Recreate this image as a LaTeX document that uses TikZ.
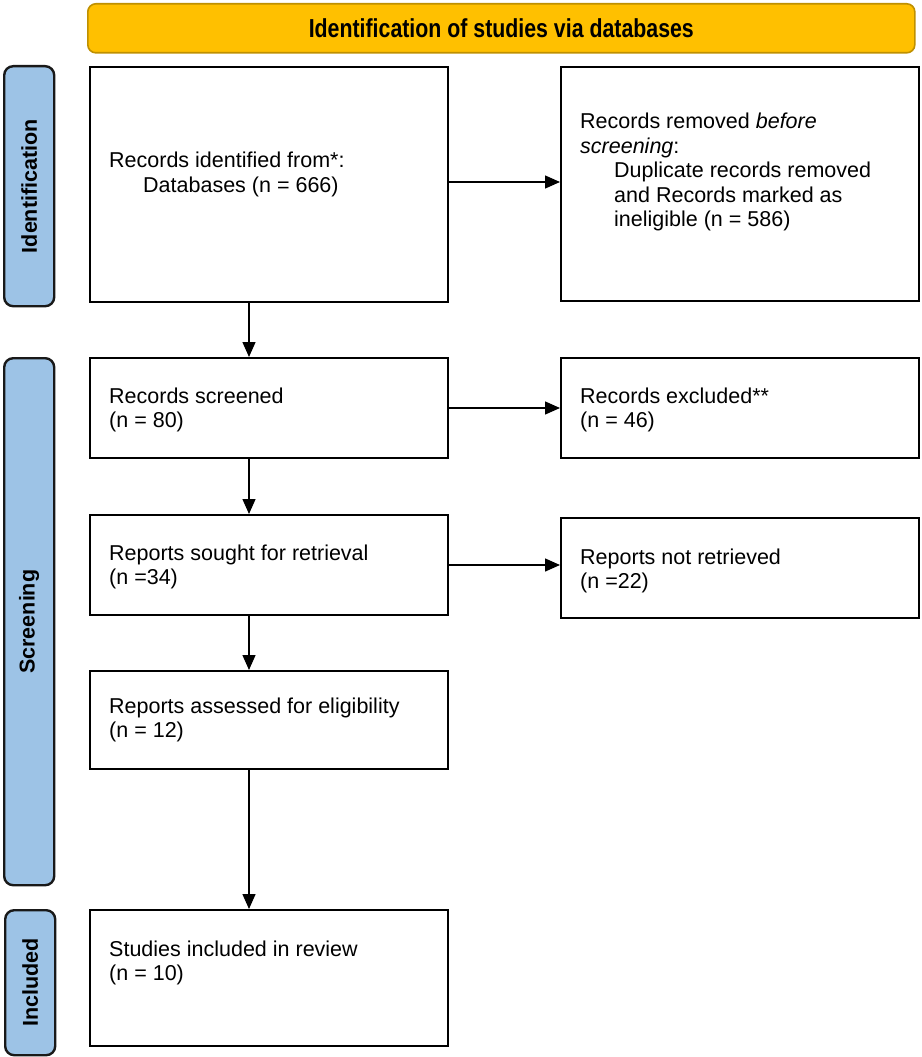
\documentclass[tikz,border=0pt]{standalone}
\usepackage{fontspec}
\setmainfont{Liberation Sans}
\usetikzlibrary{arrows.meta,positioning}
\tikzset{
  box/.style={draw=black, line width=2pt, anchor=north west, inner sep=0pt},
  txt/.style={anchor=west, align=left, inner xsep=20pt, inner ysep=0pt,
    font=\fontsize{21.5}{24.5}\selectfont},
  banner/.style={draw=gold!75!black, fill=gold, line width=1.6pt, rounded corners=8pt,
    anchor=north west, inner sep=0pt},
  sidebar/.style={draw=black!90, fill=sideblue, line width=2.4pt, rounded corners=9pt,
    anchor=north west, inner sep=0pt},
  sidelabel/.style={rotate=90, font=\fontsize{21.5}{24}\selectfont\bfseries},
  arr/.style={line width=1.4pt, -{Triangle[length=15pt,width=13pt]}}
}
\definecolor{gold}{HTML}{FFC000}
\definecolor{sideblue}{HTML}{9DC3E6}
\begin{document}
\begin{tikzpicture}[x=1pt,y=-1pt]
\useasboundingbox (0,0) rectangle (921,1057);
% banner
\node[banner, minimum width=827pt, minimum height=49pt] (ban) at (87,3) {};
\node[font=\fontsize{26}{29}\selectfont\bfseries] (bant) at (ban.center) {\scalebox{0.82}[1]{Identification of studies via databases}};
% side bars
\node[sidebar, minimum width=50pt, minimum height=240pt] (sid) at (3,65) {};
\node[sidelabel] (sidt) at (sid.center) {Identification};
\node[sidebar, minimum width=50pt, minimum height=527pt] (sscr) at (3,357) {};
\node[sidelabel] (sscrt) at (sscr.center) {Screening};
\node[sidebar, minimum width=50pt, minimum height=145pt] (sinc) at (4,909) {};
\node[sidelabel] (sinct) at (sinc.center) {Included};
% boxes
\node[box, minimum width=358pt, minimum height=235pt] (ident) at (89,66) {};
\node[txt, yshift=10pt] (identt) at (ident.center -| ident.west)
  {Records identified from*:\\\hspace*{34pt}Databases (n = 666)};
\node[box, minimum width=358pt, minimum height=234pt] (removed) at (560,66) {};
\node[txt, yshift=12pt] (removedt) at (removed.center -| removed.west)
  {Records removed \textit{before}\\\textit{screening}:\\\hspace*{34pt}Duplicate records removed\\\hspace*{34pt}and Records marked as\\\hspace*{34pt}ineligible (n = 586)};
\node[box, minimum width=358pt, minimum height=100pt] (screened) at (89,357) {};
\node[txt, yshift=-2pt] (screenedt) at (screened.center -| screened.west)
  {Records screened\\(n = 80)};
\node[box, minimum width=358pt, minimum height=100pt] (excluded) at (560,357) {};
\node[txt, yshift=-2pt] (excludedt) at (excluded.center -| excluded.west)
  {Records excluded**\\(n = 46)};
\node[box, minimum width=358pt, minimum height=100pt] (sought) at (89,514) {};
\node[txt, yshift=-2pt] (soughtt) at (sought.center -| sought.west)
  {Reports sought for retrieval\\(n =34)};
\node[box, minimum width=358pt, minimum height=100pt] (notret) at (560,517) {};
\node[txt, yshift=-3pt] (notrett) at (notret.center -| notret.west)
  {Reports not retrieved\\(n =22)};
\node[box, minimum width=358pt, minimum height=98pt] (assessed) at (89,670) {};
\node[txt] (assessedt) at (assessed.center -| assessed.west)
  {Reports assessed for eligibility\\(n = 12)};
\node[box, minimum width=358pt, minimum height=136pt] (included) at (89,909) {};
\node[txt, yshift=15pt] (includedt) at (included.center -| included.west)
  {Studies included in review\\(n = 10)};
% arrows
\draw[arr] (ident.east |- 0,182) -- (removed.west |- 0,182);
\draw[arr] (screened.east) -- (excluded.west |- screened.east);
\draw[arr] (sought.east) -- (notret.west |- sought.east);
\draw[arr] (ident.south -| 249,0) -- (screened.north -| 249,0);
\draw[arr] (screened.south -| 249,0) -- (sought.north -| 249,0);
\draw[arr] (sought.south -| 249,0) -- (assessed.north -| 249,0);
\draw[arr] (assessed.south -| 249,0) -- (included.north -| 249,0);
\end{tikzpicture}
\end{document}
